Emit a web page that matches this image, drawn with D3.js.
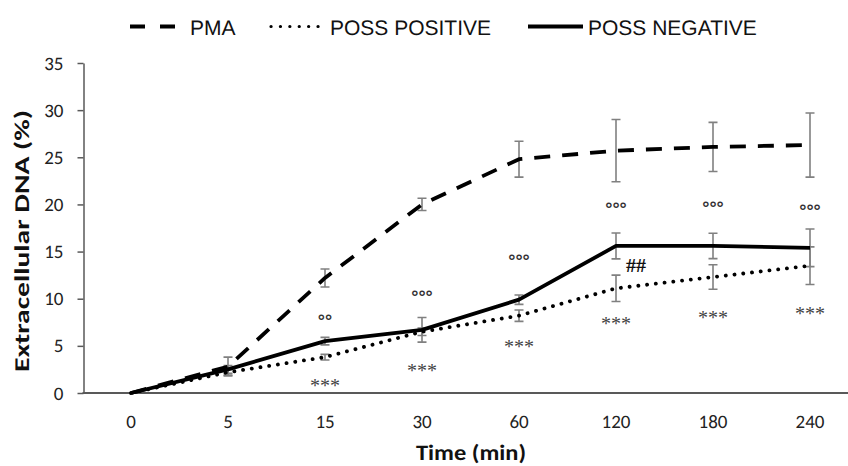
<!DOCTYPE html>
<html>
<head>
<meta charset="utf-8">
<script src="https://cdn.jsdelivr.net/npm/d3@7"></script>
<style>
  body { margin: 0; background: #fff; }
  svg text { text-rendering: geometricPrecision; }
</style>
</head>
<body>
<div id="chart-container"></div>
<script>
const categories = ['0', '5', '15', '30', '60', '120', '180', '240']
const yTicks = [0, 5, 10, 15, 20, 25, 30, 35]

const pmaValues = [0, 2.8, 12.2, 20.0, 24.8, 25.7, 26.1, 26.3]
const pmaErrors = [0, 1.0, 0.95, 0.65, 1.9, 3.3, 2.6, 3.4]
const negValues = [0, 2.5, 5.5, 6.7, 9.9, 15.6, 15.6, 15.4]
const negErrors = [0, 0.4, 0.4, 1.3, 0.5, 1.37, 1.35, 2.0]
const posValues = [0, 2.2, 3.8, 6.5, 8.2, 11.1, 12.3, 13.5]
const posErrors = [0, 0.3, 0.3, 0.4, 0.6, 1.4, 1.3, 2.0]

// significance marks: category, label, y value
const ringMarks = [['15', '°°', 8.1], ['30', '°°°', 10.6], ['60', '°°°', 14.4], ['120', '°°°', 19.9], ['180', '°°°', 20.0], ['240', '°°°', 19.7]]
const starMarks = [['15', '***', 1.2], ['30', '***', 2.8], ['60', '***', 5.3], ['120', '***', 7.7], ['180', '***', 8.4], ['240', '***', 8.8]]
const hashMarks = [['120', '##', 13.6]]

const series = [
  { name: 'PMA', values: pmaValues, errors: pmaErrors, dash: '16,12', cap: 'butt' },
  { name: 'POSS POSITIVE', values: posValues, errors: posErrors, dash: '0.1,8.7', cap: 'round' },
  { name: 'POSS NEGATIVE', values: negValues, errors: negErrors, dash: null, cap: 'butt' },
]

const width = 848
const height = 466
const tickFont = 'Carlito, Lato, sans-serif'

const svg = d3
  .select('#chart-container')
  .append('svg')
  .attr('width', width)
  .attr('height', height)
  .attr('viewBox', `0 0 ${width} ${height}`)

const x = d3.scaleBand().domain(categories).range([82.5, 858.5])
const cx = c => x(c) + x.bandwidth() / 2
const y = d3.scaleLinear().domain([0, 35]).range([393, 63])

// y axis
const yAxis = svg
  .append('g')
  .attr('transform', 'translate(83.5,0)')
  .call(d3.axisLeft(y).tickValues(yTicks).tickSize(6).tickPadding(14).tickSizeOuter(0))
yAxis.select('.domain').attr('stroke', '#595959').attr('stroke-width', 1.5)
yAxis.selectAll('.tick line').attr('stroke', '#595959').attr('stroke-width', 1.5)
yAxis
  .selectAll('.tick text')
  .attr('font-family', tickFont)
  .attr('font-size', 19)
  .attr('fill', '#222')

// x axis
const xAxis = svg
  .append('g')
  .attr('transform', 'translate(0,393)')
  .call(d3.axisBottom(x).tickSize(0).tickPadding(22).tickSizeOuter(0))
xAxis.select('.domain').attr('d', `M82.5,0H${width}`).attr('stroke', '#595959').attr('stroke-width', 2)
xAxis
  .selectAll('.tick text')
  .attr('font-family', tickFont)
  .attr('font-size', 19)
  .attr('fill', '#222')

// axis titles
svg
  .append('text')
  .attr('x', 471)
  .attr('y', 460)
  .attr('text-anchor', 'middle')
  .attr('font-family', tickFont)
  .attr('font-weight', 'bold')
  .attr('font-size', 22)
  .attr('textLength', 110)
  .attr('lengthAdjust', 'spacingAndGlyphs')
  .attr('fill', '#111')
  .text('Time (min)')

svg
  .append('text')
  .attr('transform', 'translate(29,241) rotate(-90)')
  .attr('text-anchor', 'middle')
  .attr('font-family', tickFont)
  .attr('font-weight', 'bold')
  .attr('font-size', 21)
  .attr('textLength', 262)
  .attr('lengthAdjust', 'spacingAndGlyphs')
  .attr('fill', '#111')
  .text('Extracellular DNA (%)')

// error bars
const capHalf = 4.5
series.forEach(s => {
  svg
    .append('g')
    .attr('stroke', '#808080')
    .attr('stroke-width', 1.6)
    .attr('fill', 'none')
    .selectAll('path')
    .data(categories.map((c, i) => ({ c, v: s.values[i], e: s.errors[i] })).filter(d => d.e > 0))
    .join('path')
    .attr('d', d => {
      const px = cx(d.c)
      const top = y(d.v + d.e)
      const bot = y(d.v - d.e)
      return `M${px},${top}V${bot}M${px - capHalf},${top}H${px + capHalf}M${px - capHalf},${bot}H${px + capHalf}`
    })
})

// lines
const line = d3
  .line()
  .x((d, i) => cx(categories[i]))
  .y(d => y(d))

series.forEach(s => {
  svg
    .append('path')
    .datum(s.values)
    .attr('d', line)
    .attr('fill', 'none')
    .attr('stroke', '#000')
    .attr('stroke-width', s.cap === 'round' ? 3.8 : 3.8)
    .attr('stroke-dasharray', s.dash)
    .attr('stroke-linecap', s.cap)
    .attr('stroke-linejoin', 'round')
})

// significance marks
svg
  .append('g')
  .selectAll('text')
  .data(ringMarks)
  .join('text')
  .attr('x', d => cx(d[0]))
  .attr('y', d => y(d[2]) + 10)
  .attr('text-anchor', 'middle')
  .attr('font-family', 'Liberation Sans, Arial, sans-serif')
  .attr('font-size', 18)
  .attr('font-weight', 'bold')
  .attr('fill', '#333')
  .text(d => d[1])

svg
  .append('g')
  .selectAll('text')
  .data(starMarks)
  .join('text')
  .attr('x', d => cx(d[0]))
  .attr('y', d => y(d[2]) + 10)
  .attr('text-anchor', 'middle')
  .attr('font-family', 'Liberation Serif, serif')
  .attr('font-size', 20)
  .attr('fill', '#444')
  .text(d => d[1])

svg
  .append('g')
  .selectAll('text')
  .data(hashMarks)
  .join('text')
  .attr('x', d => cx(d[0]) + 10)
  .attr('y', d => y(d[2]) + 7)
  .attr('font-family', 'Liberation Serif, Times New Roman, serif')
  .attr('font-weight', 'bold')
  .attr('font-size', 20)
  .attr('fill', '#111')
  .text(d => d[1])

// legend
const legendItems = [
  { s: series[0], x0: 130, x1: 176, tx: 190 },
  { s: series[1], x0: 271, x1: 327, tx: 330 },
  { s: series[2], x0: 528, x1: 583, tx: 588 },
]
const legend = svg.append('g')
legendItems.forEach(d => {
  legend
    .append('line')
    .attr('x1', d.x0)
    .attr('x2', d.x1)
    .attr('y1', 26.5)
    .attr('y2', 26.5)
    .attr('stroke', '#000')
    .attr('stroke-width', d.s.cap === 'round' ? 3.2 : 4)
    .attr('stroke-dasharray', d.s.cap === 'round' ? '0.1,9.3' : d.s.dash ? '15,15' : null)
    .attr('stroke-linecap', d.s.cap)
  legend
    .append('text')
    .attr('x', d.tx)
    .attr('y', 34.5)
    .attr('font-family', 'Liberation Sans, Arial, sans-serif')
    .attr('font-size', 21)
    .attr('fill', '#111')
    .text(d.s.name)
})
</script>
</body>
</html>
